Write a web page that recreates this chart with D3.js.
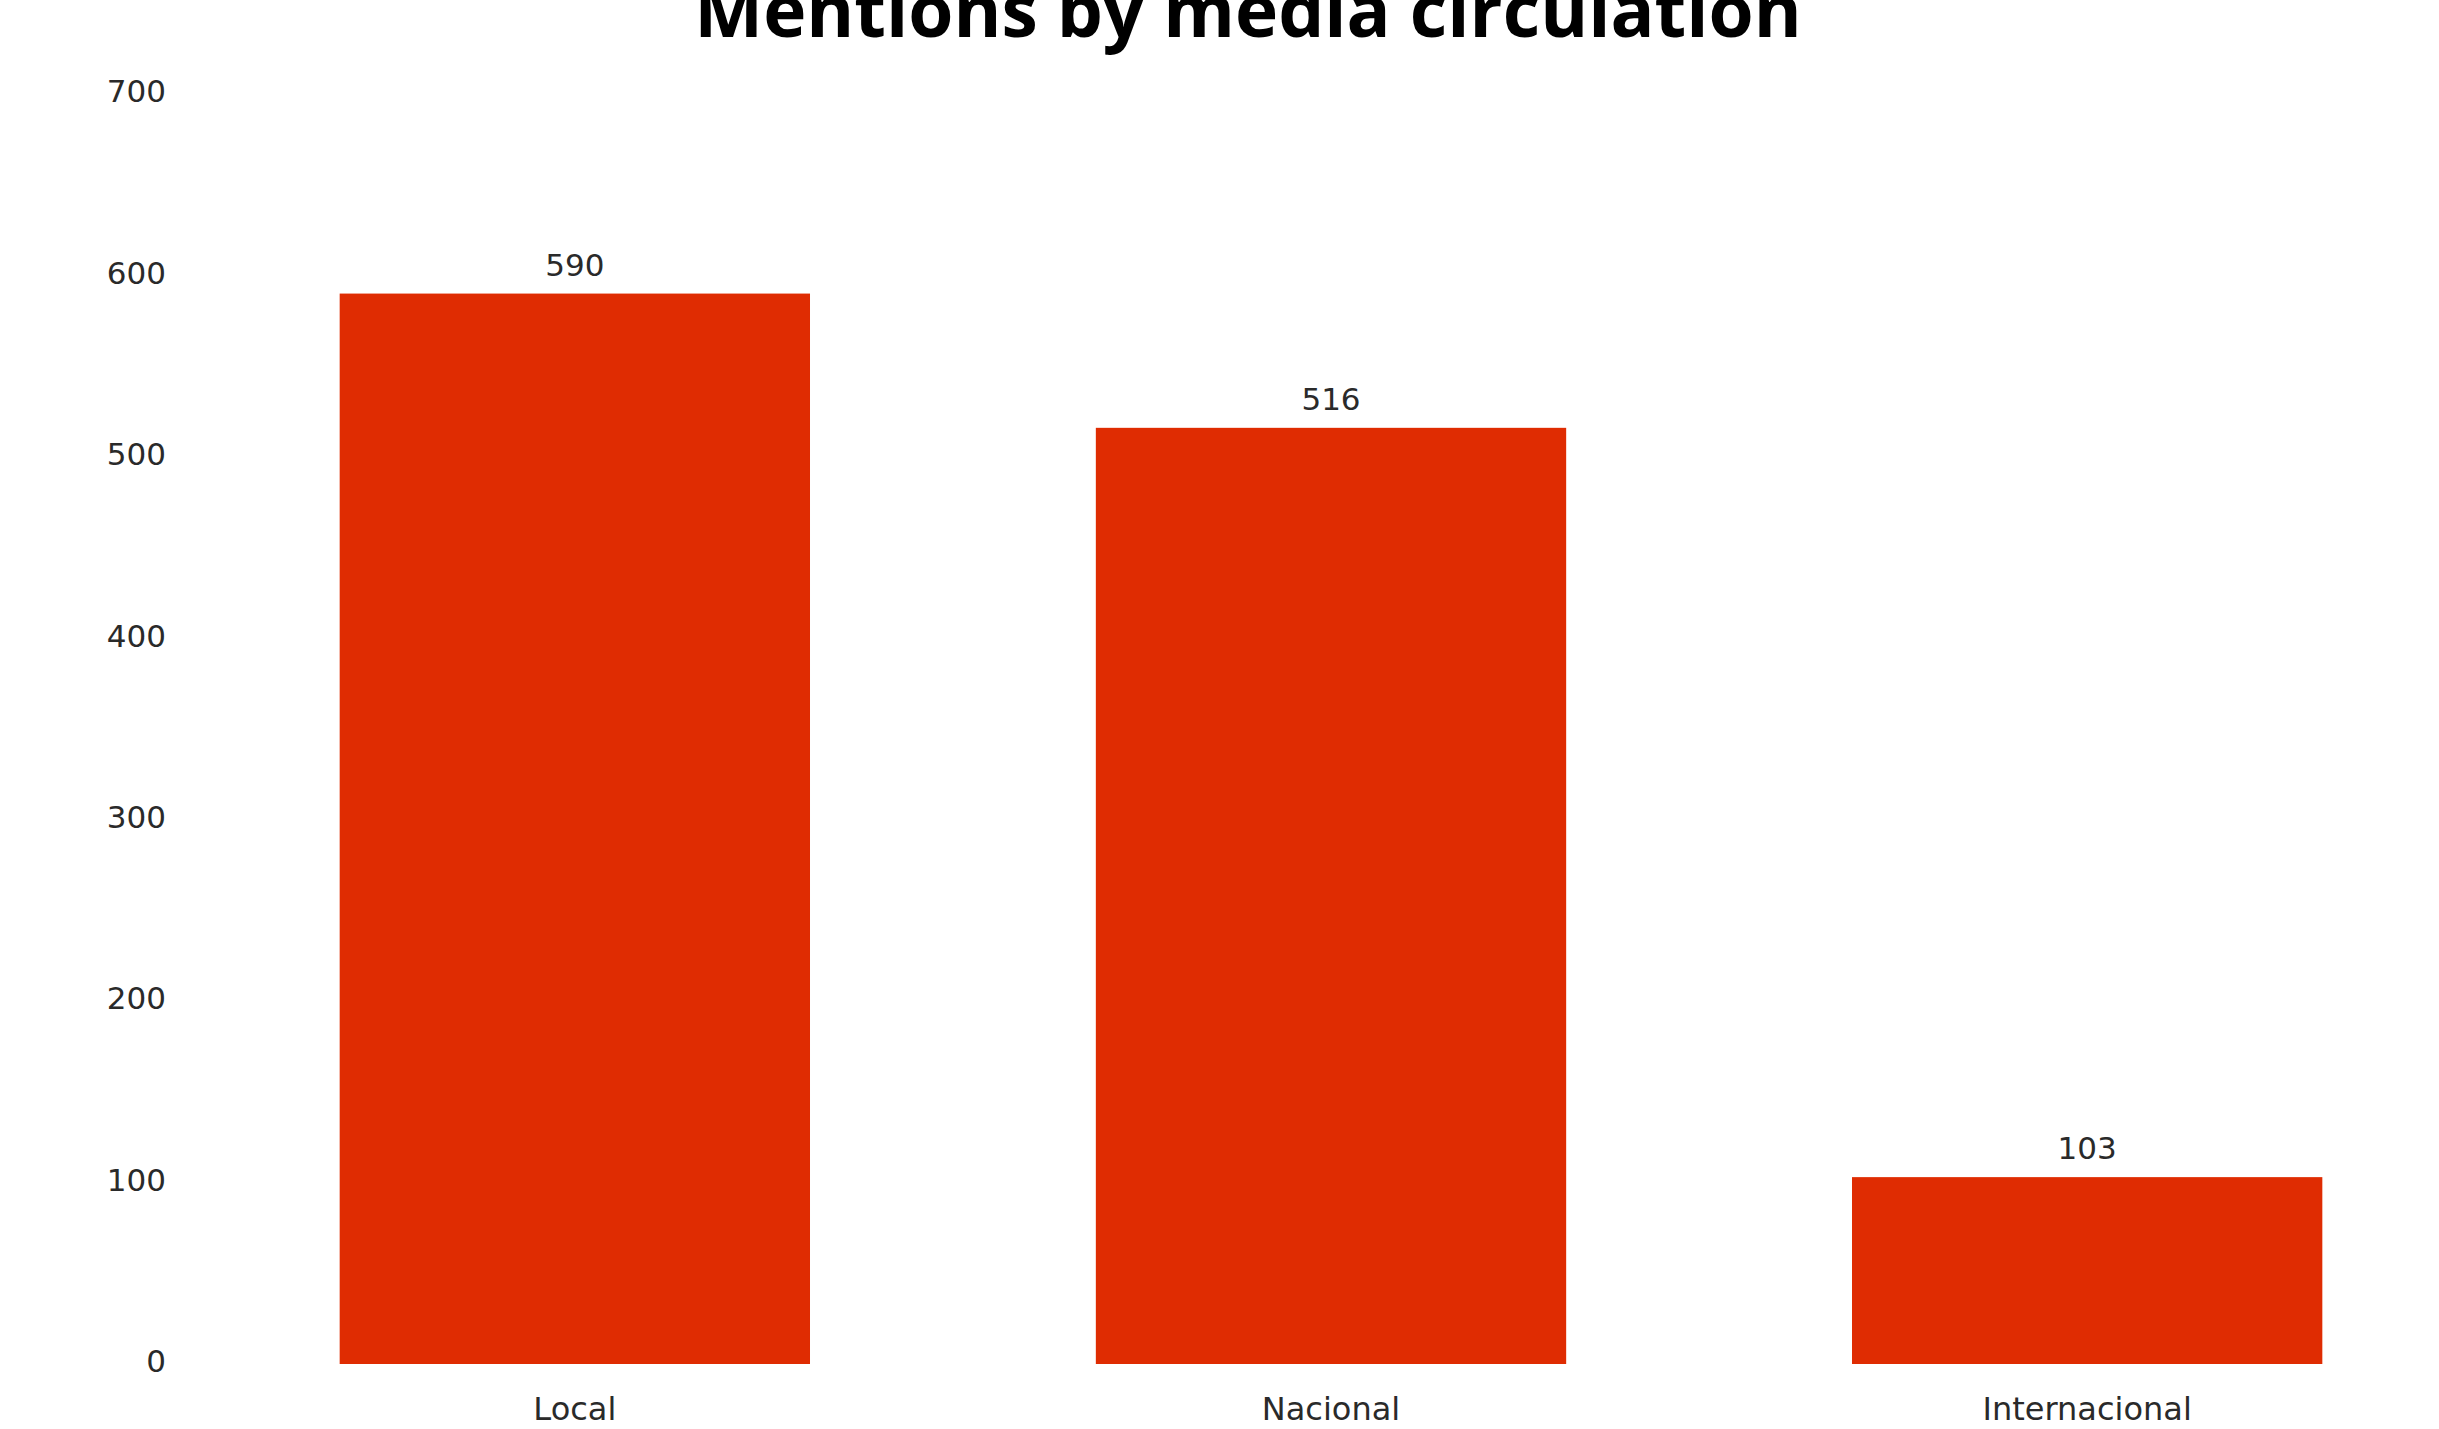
<!DOCTYPE html>
<html>
<head>
<meta charset="utf-8">
<script src="https://cdn.jsdelivr.net/npm/d3@7"></script>
<style>
  html, body { margin: 0; padding: 0; background: #ffffff; }
  svg { display: block; }
</style>
</head>
<body>
<svg id="chart" width="2439" height="1429"></svg>
<script>
const titleText = "Mentions by media circulation";
const categories = ["Local", "Nacional", "Internacional"];
const values = [590, 516, 103];
const yTicks = [0, 100, 200, 300, 400, 500, 600, 700];

const W = 2439, H = 1429;
const svg = d3.select("#chart");
const labelFont = "'DejaVu Sans', sans-serif";
const barColor = "#DF2C02";

const x = d3.scaleBand()
  .domain(categories)
  .range([196, 2466])
  .paddingInner(0.378)
  .paddingOuter(0.19);

const y = d3.scaleLinear()
  .domain([0, 700])
  .range([1364, 94]);

// Title
svg.append("text")
  .attr("x", 1248)
  .attr("y", 37)
  .attr("text-anchor", "middle")
  .attr("font-family", "'Open Sans', sans-serif")
  .attr("font-weight", 700)
  .attr("font-size", 73)
  .attr("fill", "#000")
  .text(titleText);

// Y axis
const yAxis = svg.append("g")
  .attr("transform", "translate(176,0)")
  .call(d3.axisLeft(y).tickValues(yTicks).tickSize(0).tickPadding(10).tickFormat(d3.format("d")));
yAxis.select(".domain").remove();
yAxis.selectAll("text")
  .attr("font-family", labelFont)
  .attr("font-size", 31)
  .attr("dy", "0.25em")
  .attr("fill", "#2a2a2a");

// Bars
svg.append("g").selectAll("rect")
  .data(values)
  .join("rect")
  .attr("x", (d, i) => x(categories[i]))
  .attr("y", d => y(d))
  .attr("width", x.bandwidth())
  .attr("height", d => y(0) - y(d))
  .attr("fill", barColor);

// Value labels
svg.append("g").selectAll("text")
  .data(values)
  .join("text")
  .attr("x", (d, i) => x(categories[i]) + x.bandwidth() / 2)
  .attr("y", d => y(d) - 18)
  .attr("text-anchor", "middle")
  .attr("font-family", labelFont)
  .attr("font-size", 31)
  .attr("fill", "#2a2a2a")
  .text(d => d);

// X axis labels
const xAxis = svg.append("g")
  .attr("transform", `translate(0,${y(0)})`)
  .call(d3.axisBottom(x).tickSize(0).tickPadding(33));
xAxis.select(".domain").remove();
xAxis.selectAll("text")
  .attr("font-family", labelFont)
  .attr("font-size", 32)
  .attr("fill", "#2a2a2a");
</script>
</body>
</html>
